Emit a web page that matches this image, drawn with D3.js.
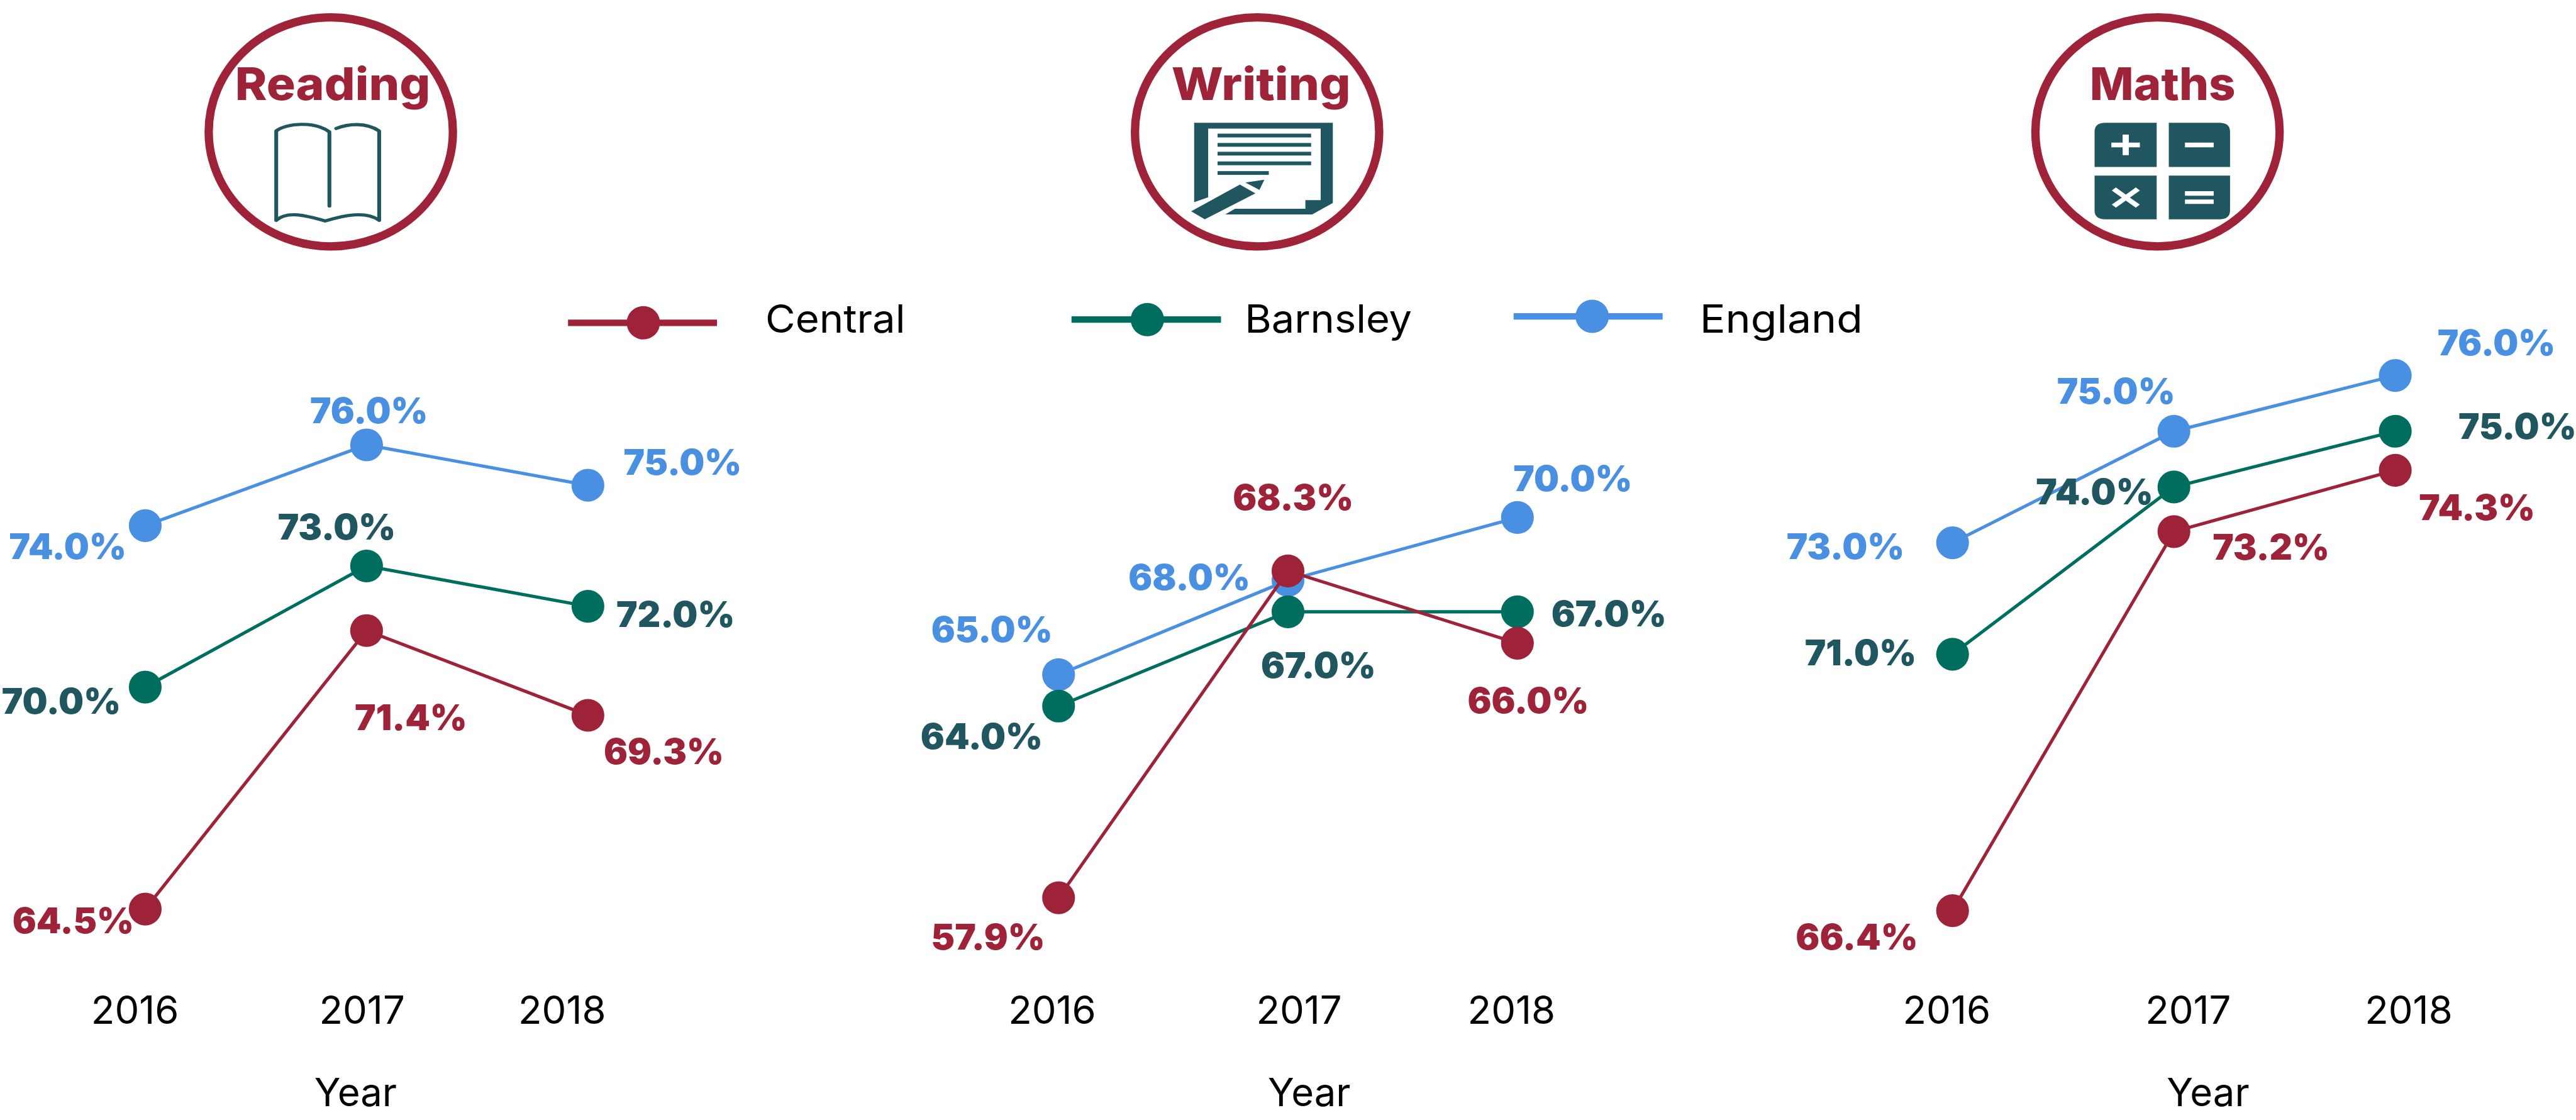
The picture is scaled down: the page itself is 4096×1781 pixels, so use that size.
<!DOCTYPE html>
<html><head><meta charset="utf-8">
<script src="https://cdn.jsdelivr.net/npm/d3@7"></script>
<style>html,body{margin:0;background:#fff;overflow:hidden}svg{display:block}text{font-family:Inter,"Open Sans",sans-serif}</style>
</head><body><div id="c"></div>
<script>
const years=[2016,2017,2018];
const seriesNames=["Central","Barnsley","England"];
const panelNames=["Reading","Writing","Maths"];
const readingCentral=[64.5,71.4,69.3],readingBarnsley=[70,73,72],readingEngland=[74,76,75];
const writingCentral=[57.9,68.3,66],writingBarnsley=[64,67,67],writingEngland=[65,68,70];
const mathsCentral=[66.4,73.2,74.3],mathsBarnsley=[71,74,75],mathsEngland=[73,75,76];

const RED="#9e2238",GREEN="#006e5f",BLUE="#4a90e2",TEAL="#20565f";
const colors=[RED,GREEN,BLUE],labelColors=[RED,TEAL,BLUE];
const svg=d3.select("#c").append("svg").attr("width",4096).attr("height",1781).attr("viewBox","0 0 4789 2082");

const layouts=[
 {xr:[270,1093],yd:[64.5,76],yr:[1690,827],ticks:[251,673,1045],yearX:661,
  lab:[[[136,1735],[764,1357],[1234,1421]],[[114,1327],[626,1003],[1256,1165]],[[126,1039],[686,787],[1269,883]]]},
 {xr:[1968,2821],yd:[57.9,70],yr:[1669,962],ticks:[1956,2415,2810],yearX:2434,
  lab:[[[1837,1765],[2404,948],[2841,1326]],[[1825,1392],[2451,1260],[2991,1164]],[[1844,1194],[2211,1097],[2924,913]]]},
 {xr:[3630,4453],yd:[66.4,76],yr:[1693,698],ticks:[3619,4068,4478],yearX:4105,
  lab:[[[3452,1765],[4222,1040],[4605,967]],[[3459,1237],[3894,937],[4680,816]],[[3431,1039],[3934,750],[4641,660]]]}];
const panelData=[
 [readingCentral,readingBarnsley,readingEngland],
 [writingCentral,writingBarnsley,writingEngland],
 [mathsCentral,mathsBarnsley,mathsEngland]];

panelData.forEach((data,i)=>{
 const L=layouts[i];
 const y=d3.scaleLinear().domain(L.yd).range(L.yr);
 const x=d3.scalePoint().domain(years).range(L.xr);
 const tick=d3.scaleOrdinal().domain(years).range(L.ticks);
 const g=svg.append("g");
 [2,1,0].forEach(k=>{
  g.append("path").attr("d",d3.line().x((v,j)=>x(years[j])).y(v=>y(v))(data[k]))
   .attr("fill","none").attr("stroke",colors[k]).attr("stroke-width",6);
  g.selectAll(null).data(data[k]).join("circle")
   .attr("cx",(v,j)=>x(years[j])).attr("cy",v=>y(v)).attr("r",30.5).attr("fill",colors[k]);
 });
 [2,1,0].forEach(k=>{
  g.selectAll(null).data(data[k]).join("text")
   .attr("x",(v,j)=>L.lab[k][j][0]).attr("y",(v,j)=>L.lab[k][j][1])
   .attr("text-anchor","middle").attr("font-size",66).attr("font-weight",900).attr("fill",labelColors[k])
   .text(v=>v.toFixed(1)+"%");
 });
 g.selectAll(null).data(years).join("text").attr("x",d=>tick(d)).attr("y",1903)
  .attr("text-anchor","middle").attr("font-size",72).attr("fill","#000").text(d=>d);
 g.append("text").attr("x",L.yearX).attr("y",2057).attr("text-anchor","middle").attr("font-size",72).attr("fill","#000").text("Year");
});

// legend
const legendLayout=[{x0:1056,x1:1333,cx:1196,y:600,tx:1423,tw:260},{x0:1992,x1:2270,cx:2133,y:594,tx:2314,tw:311},{x0:2814,x1:3091,cx:2960,y:588,tx:3160,tw:303}];
seriesNames.forEach((n,k)=>{
 const l=legendLayout[k];
 svg.append("line").attr("x1",l.x0).attr("x2",l.x1).attr("y1",l.y).attr("y2",l.y).attr("stroke",colors[k]).attr("stroke-width",12);
 svg.append("circle").attr("cx",l.cx).attr("cy",l.y).attr("r",31).attr("fill",colors[k]);
 svg.append("text").attr("x",l.tx).attr("y",618).attr("font-size",72).attr("fill","#000").attr("textLength",l.tw).attr("lengthAdjust","spacingAndGlyphs").text(n);
});

// badges
const badges=[{cx:615,tx:437,tw:363},{cx:2337,tx:2178,tw:333},{cx:4011,tx:3885,tw:271}];
panelNames.forEach((n,i)=>{
 const b=badges[i];
 svg.append("ellipse").attr("cx",b.cx).attr("cy",245).attr("rx",227).attr("ry",213).attr("fill","#fff").attr("stroke",RED).attr("stroke-width",15.5);
 svg.append("text").attr("x",b.tx).attr("y",186).attr("font-size",84).attr("font-weight",800).attr("fill",RED).attr("textLength",b.tw).attr("lengthAdjust","spacingAndGlyphs").text(n);
});
const SX=1568/620,SY=3;
const icon=ox=>svg.append("g").attr("transform",`translate(${ox},0) scale(${1/SX},${1/SY})`);
// book
icon(300).append("path").attr("fill","none").attr("stroke",TEAL).attr("stroke-width",18).attr("stroke-linecap","round").attr("stroke-linejoin","round")
 .attr("d","M540,1228L540,730C590,685 720,675 790,735L790,1148M822,716C880,690 960,680 1024,730L1024,1228M540,1228C590,1175 680,1200 770,1232C860,1200 960,1175 1024,1228");
// writing
const w=icon(2050).attr("fill",TEAL);
w.append("polygon").attr("points","430,684 1082,684 1082,1132 985,1196 576,1196 622,1164 953,1164 953,1116 1025,1116 1025,717 496,717 496,1100 430,1127");
[[745,980],[797,980],[846,980],[900,980],[954,781]].forEach(d=>w.append("rect").attr("x",540).attr("y",d[0]).attr("width",d[1]-540).attr("height",21));
w.append("polygon").attr("points","645,1029 718,1078 480,1223 416,1178");
w.append("polygon").attr("points","671,1018 760,1002 737,1059");
// maths
const m=icon(3720);
m.append("path").attr("fill",TEAL).attr("d","M490,684H732V931H440V734Q440,684 490,684ZM789,684H1027Q1077,684 1077,734V931H789ZM440,979H732V1223H490Q440,1223 440,1173ZM789,979H1077V1173Q1077,1223 1027,1223H789Z");
m.append("path").attr("fill","#fff").attr("d","M519,795H572V750H601V795H653V821H601V865H572V821H519ZM865,795H1000V821H865ZM865,1066H1000V1091H865ZM865,1112H1000V1137H865ZM540,1045L587,1085L634,1045L653,1062L606,1102L653,1140L634,1158L587,1118L540,1158L521,1140L568,1102L521,1062Z");
</script></body></html>
